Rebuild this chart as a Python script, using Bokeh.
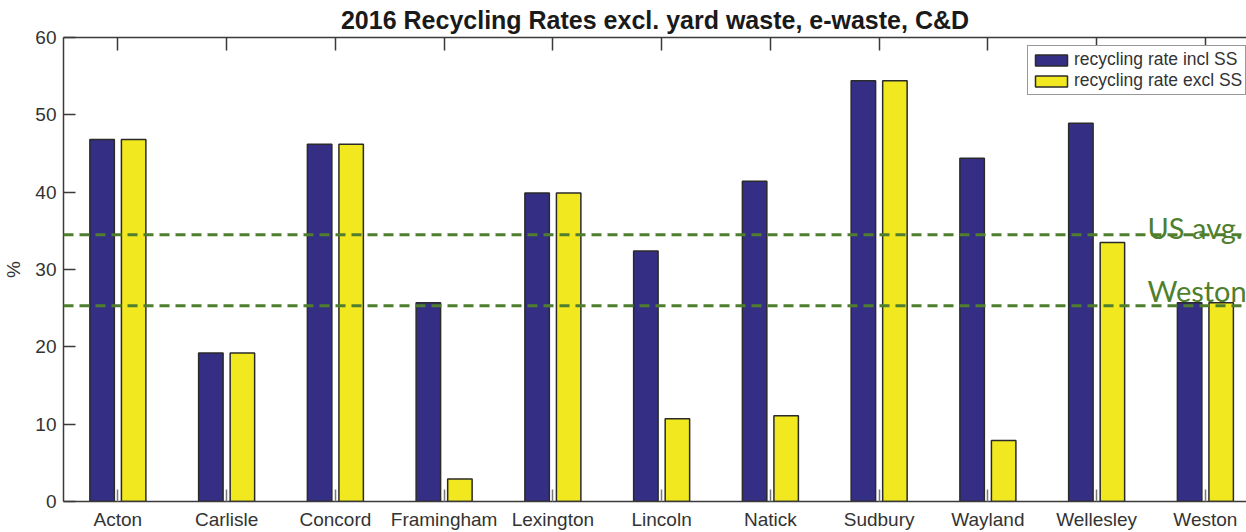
from bokeh.plotting import figure
from bokeh.models import (FixedTicker, LinearAxis, Span, Label, Legend, LegendItem,
                          ColumnDataSource, Range1d)
from bokeh.transform import dodge
from bokeh.embed import file_html
from bokeh.resources import INLINE

towns = ["Acton", "Carlisle", "Concord", "Framingham", "Lexington", "Lincoln",
         "Natick", "Sudbury", "Wayland", "Wellesley", "Weston"]
rate_incl_ss = [46.8, 19.2, 46.2, 25.7, 39.9, 32.4, 41.4, 54.4, 44.4, 48.9, 25.7]
rate_excl_ss = [46.8, 19.2, 46.2, 2.9, 39.9, 10.7, 11.1, 54.4, 7.9, 33.5, 25.7]
us_avg = 34.5
weston_rate = 25.3
y_ticks = [0, 10, 20, 30, 40, 50, 60]

positions = list(range(1, len(towns) + 1))
src = ColumnDataSource(dict(x=positions, incl=rate_incl_ss, excl=rate_excl_ss))

BLUE = "#342f85"
YELLOW = "#f1e81f"
GREEN = "#4f7f2e"
AXC = "#3a3a3a"
FONT = "Liberation Sans"

p = figure(width=1246, height=532, output_backend="svg", toolbar_location=None,
           x_range=Range1d(0.5, 11.378), y_range=Range1d(0, 60),
           min_border_left=63, min_border_right=0, min_border_top=36, min_border_bottom=30,
           title="2016 Recycling Rates excl. yard waste, e-waste, C&D")
p.outline_line_color = None
p.xgrid.visible = False
p.ygrid.visible = False

p.title.text_font = FONT
p.title.text_font_size = "25px"
p.title.text_font_style = "bold"
p.title.text_color = "#1a1a1a"
p.title.align = "center"
p.title.offset = 0
p.title.standoff = 7

r1 = p.vbar(x=dodge("x", -0.145, range=p.x_range), top="incl", width=0.225, source=src,
            fill_color=BLUE, line_color="#2a2a2a", line_width=1.5)
r2 = p.vbar(x=dodge("x", 0.145, range=p.x_range), top="excl", width=0.225, source=src,
            fill_color=YELLOW, line_color="#2a2a2a", line_width=1.5)

for v in (us_avg, weston_rate):
    p.add_layout(Span(location=v, dimension="width", line_color=GREEN,
                      line_width=3, line_dash="10 6"))

p.add_layout(Label(x=10.468, y=35.4, text="US avg.", text_font="Lato",
                   text_font_size="29px", text_color=GREEN, text_baseline="alphabetic"))
p.add_layout(Label(x=10.468, y=27.3, text="Weston", text_font="Lato",
                   text_font_size="29px", text_color=GREEN, text_baseline="alphabetic"))

# bottom axis
xa = p.xaxis[0]
xa.ticker = FixedTicker(ticks=positions)
xa.major_label_overrides = {pos: name for pos, name in zip(positions, towns)}
xa.major_tick_in = 12
xa.major_tick_out = 0
xa.minor_tick_line_color = None
xa.axis_line_color = AXC
xa.axis_line_width = 1.5
xa.major_tick_line_color = "#777777"
xa.major_tick_line_width = 1.5
xa.major_label_text_font = FONT
xa.major_label_text_font_size = "19px"
xa.major_label_text_color = "#333333"
xa.major_label_standoff = 7

# left axis
ya = p.yaxis[0]
ya.ticker = FixedTicker(ticks=y_ticks)
ya.major_tick_in = 12
ya.major_tick_out = 0
ya.minor_tick_line_color = None
ya.axis_line_color = AXC
ya.axis_line_width = 1.5
ya.major_tick_line_color = AXC
ya.major_tick_line_width = 1.5
ya.major_label_text_font = FONT
ya.major_label_text_font_size = "19px"
ya.major_label_text_color = "#333333"
ya.major_label_standoff = 7
ya.axis_label = "%"
ya.axis_label_text_font = FONT
ya.axis_label_text_font_style = "normal"
ya.axis_label_text_font_size = "19px"
ya.axis_label_text_color = "#333333"
ya.axis_label_standoff = 8

# top axis (ticks only)
ta = LinearAxis(ticker=FixedTicker(ticks=positions))
ta.major_tick_in = 13
ta.major_tick_out = 0
ta.minor_tick_line_color = None
ta.axis_line_color = AXC
ta.axis_line_width = 1.5
ta.major_tick_line_color = AXC
ta.major_tick_line_width = 1.5
ta.major_label_overrides = {pos: "" for pos in positions}
ta.major_label_standoff = 0
p.add_layout(ta, "above")

legend = Legend(items=[LegendItem(label="recycling rate incl SS", renderers=[r1]),
                       LegendItem(label="recycling rate excl SS", renderers=[r2])],
                location=(964, 406))
legend.label_text_font = FONT
legend.label_text_font_size = "17.5px"
legend.label_text_color = "#333333"
legend.glyph_width = 40
legend.glyph_height = 14
legend.label_height = 18
legend.spacing = 0
legend.padding = 3
legend.margin = 0
legend.label_standoff = 3
legend.border_line_color = "#333333"
legend.border_line_width = 1.5
legend.background_fill_alpha = 1.0
p.add_layout(legend)

open("out.html", "w").write(file_html(p, INLINE))
